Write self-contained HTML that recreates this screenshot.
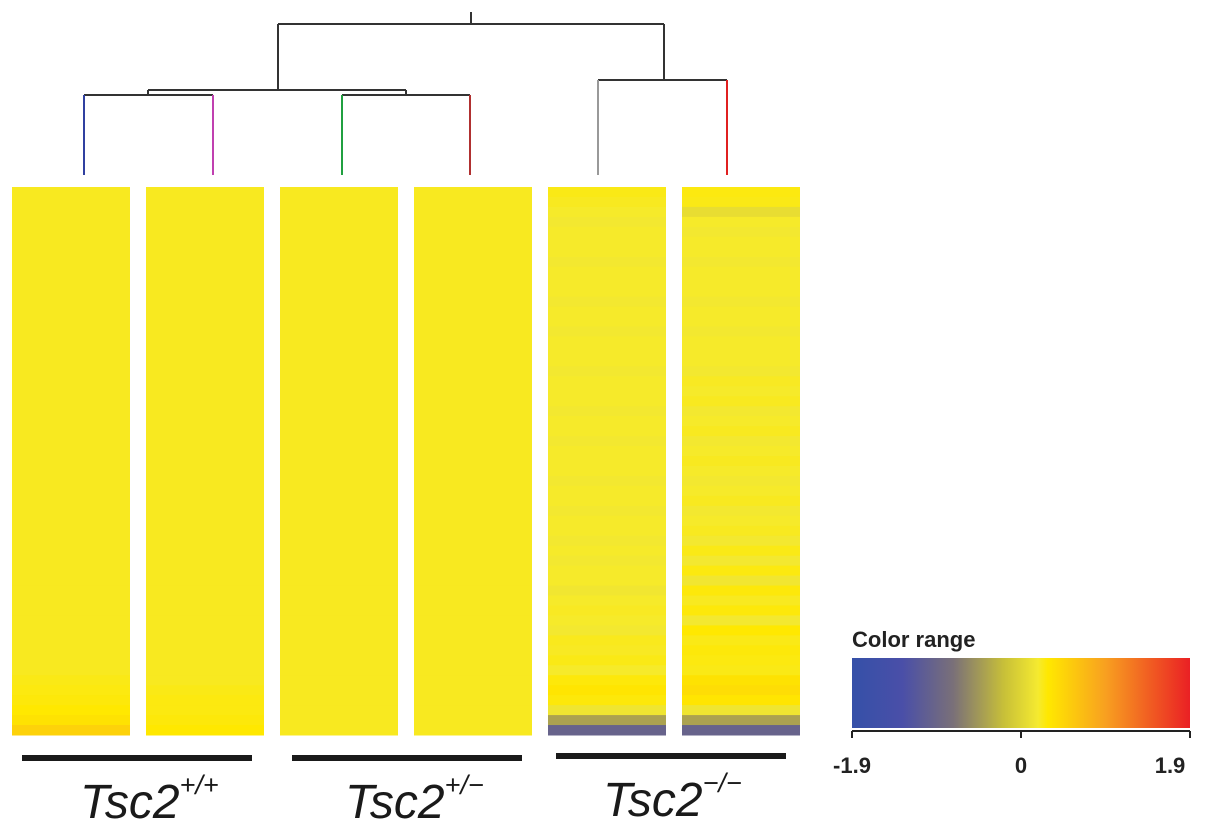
<!DOCTYPE html>
<html><head><meta charset="utf-8"><style>
html,body{margin:0;padding:0;background:#fff;}
svg{display:block;font-family:"Liberation Sans",sans-serif;}
</style></head><body>
<svg width="1205" height="834" viewBox="0 0 1205 834">
<defs>
<linearGradient id="cbar" x1="0" x2="1" y1="0" y2="0">
<stop offset="0" stop-color="#3550a8"/><stop offset="0.15" stop-color="#4a4fa8"/><stop offset="0.3" stop-color="#7a7078"/>
<stop offset="0.45" stop-color="#c8c038"/><stop offset="0.55" stop-color="#f5ea30"/><stop offset="0.58" stop-color="#ffe800"/>
<stop offset="0.75" stop-color="#f8a020"/><stop offset="1" stop-color="#ea2024"/>
</linearGradient>
</defs>
<g id="dendro" fill="none" stroke-width="2">
<path d="M471 12V24M278 24H664M278 24V90M148 90H406M148 90V95M406 90V95M84 95H213M342 95H470M664 24V80M598 80H727" stroke="#333"/>
<path d="M84 95V175" stroke="#3040a0"/>
<path d="M213 95V175" stroke="#c040b0"/>
<path d="M342 95V175" stroke="#20a040"/>
<path d="M470 95V175" stroke="#b03030"/>
<path d="M598 80V175" stroke="#999"/>
<path d="M727 80V175" stroke="#e02020"/>
</g>
<g id="heat"></g>
<g fill="#1a1a1a">
<rect x="22" y="755" width="230" height="6"/><rect x="292" y="755" width="230" height="6"/><rect x="556" y="753" width="230" height="6"/>
</g>
<g font-style="italic" font-size="48" fill="#1a1a1a">
<text x="80" y="818">Tsc2<tspan font-size="27" dy="-24">+/+</tspan></text>
<text x="345" y="818">Tsc2<tspan font-size="27" dy="-24">+/−</tspan></text>
<text x="603" y="816">Tsc2<tspan font-size="27" dy="-24">−/−</tspan></text>
</g>
<g>
<text x="852" y="647" font-size="22" font-weight="bold" fill="#222">Color range</text>
<rect x="852" y="658" width="338" height="70" fill="url(#cbar)"/>
<path d="M852 731H1190M852 731V738M1021 731V738M1190 731V738" stroke="#222" stroke-width="2" fill="none"/>
<g font-size="22" font-weight="bold" fill="#222" text-anchor="middle">
<text x="852" y="773">-1.9</text>
<text x="1021" y="773">0</text>
<text x="1170" y="773">1.9</text>
</g>
</g>
</svg>
<script>
const samples = ["WT-1","WT-2","HET-1","HET-2","KO-1","KO-2"];
const wt1 = [0.05,0.05,0.05,0.05,0.05,0.05,0.05,0.05,0.05,0.05,0.05,0.05,0.05,0.05,0.05,0.05,0.05,0.05,0.05,0.05,0.05,0.05,0.05,0.05,0.05,0.05,0.05,0.05,0.05,0.05,0.05,0.05,0.05,0.05,0.05,0.05,0.05,0.05,0.05,0.05,0.05,0.05,0.05,0.05,0.05,0.05,0.05,0.05,0.05,0.08,0.1,0.12,0.15,0.2,0.35];
const wt2 = [0.05,0.05,0.05,0.05,0.05,0.05,0.05,0.05,0.05,0.05,0.05,0.05,0.05,0.05,0.05,0.05,0.05,0.05,0.05,0.05,0.05,0.05,0.05,0.05,0.05,0.05,0.05,0.05,0.05,0.05,0.05,0.05,0.05,0.05,0.05,0.05,0.05,0.05,0.05,0.05,0.05,0.05,0.05,0.05,0.05,0.05,0.05,0.05,0.05,0.05,0.08,0.1,0.1,0.12,0.15];
const het1 = [0.05,0.05,0.05,0.05,0.05,0.05,0.05,0.05,0.05,0.05,0.05,0.05,0.05,0.05,0.05,0.05,0.05,0.05,0.05,0.05,0.05,0.05,0.05,0.05,0.05,0.05,0.05,0.05,0.05,0.05,0.05,0.05,0.05,0.05,0.05,0.05,0.05,0.05,0.05,0.05,0.05,0.05,0.05,0.05,0.05,0.05,0.05,0.05,0.05,0.05,0.05,0.05,0.05,0.05,0.05];
const het2 = [0.05,0.05,0.05,0.05,0.05,0.05,0.05,0.05,0.05,0.05,0.05,0.05,0.05,0.05,0.05,0.05,0.05,0.05,0.05,0.05,0.05,0.05,0.05,0.05,0.05,0.05,0.05,0.05,0.05,0.05,0.05,0.05,0.05,0.05,0.05,0.05,0.05,0.05,0.05,0.05,0.05,0.05,0.05,0.05,0.05,0.05,0.05,0.05,0.05,0.05,0.05,0.05,0.05,0.05,0.05];
const ko1 = [0.08,0.05,0.02,-0.02,0.02,0.02,0.02,-0.02,0.02,0.02,0.02,-0.02,0.02,0.02,-0.02,0.02,0.02,0.02,-0.02,0.02,0.02,0.02,-0.02,0.02,0.02,-0.02,0.02,0.02,0.02,-0.02,0.02,0.02,-0.02,0.02,0.02,-0.02,0.02,-0.02,0.02,0.02,-0.04,0.02,0.04,0.02,-0.02,0.06,0.04,0.08,0.02,0.12,0.18,0.12,-0.05,-0.55,-1.0];
const ko2 = [0.1,0.08,-0.12,0.02,-0.02,0.02,0.02,-0.02,0.02,0.02,0.02,-0.02,0.02,0.02,-0.02,0.02,0.02,0.02,-0.02,0.04,0.02,0.05,-0.02,0.02,0.05,-0.02,0.02,0.05,0.02,-0.02,0.02,0.05,-0.02,0.02,0.05,-0.02,0.08,-0.02,0.1,-0.04,0.12,0.05,0.12,-0.02,0.15,0.08,0.12,0.1,0.08,0.2,0.25,0.18,-0.05,-0.55,-1.0];
const columns = [wt1,wt2,het1,het2,ko1,ko2];

const stops = [[-1.9,[53,80,168]],[-1.3,[74,79,168]],[-0.8,[122,112,120]],[-0.4,[200,192,56]],[0,[245,234,48]],[0.15,[255,232,0]],[0.8,[248,160,32]],[1.9,[234,32,36]]];
function color(v){
  v=Math.max(-1.9,Math.min(1.9,v));
  for(let i=0;i<stops.length-1;i++){const a=stops[i],b=stops[i+1];
    if(v<=b[0]){const t=(v-a[0])/(b[0]-a[0]);const c=a[1].map((x,k)=>Math.round(x+(b[1][k]-x)*t));return `rgb(${c})`;}}
  return 'rgb(234,32,36)';
}
const colX = i => 12 + i*134;
const colW = 118, rowTop = 187, rowBottom = 735;
const heatG = document.getElementById('heat');
const NS='http://www.w3.org/2000/svg';
columns.forEach((vals,ci)=>{
  const col=document.createElementNS(NS,'g');
  
  
  const rh=(rowBottom-rowTop)/vals.length;
  vals.forEach((v,ri)=>{
    const r=document.createElementNS(NS,'rect');
    r.setAttribute('x',colX(ci));r.setAttribute('y',rowTop+ri*rh);
    r.setAttribute('width',colW);r.setAttribute('height',rh+0.5);
    r.setAttribute('fill',color(v));
    
    
    col.appendChild(r);
  });
  heatG.appendChild(col);
});
</script>
</body></html>
